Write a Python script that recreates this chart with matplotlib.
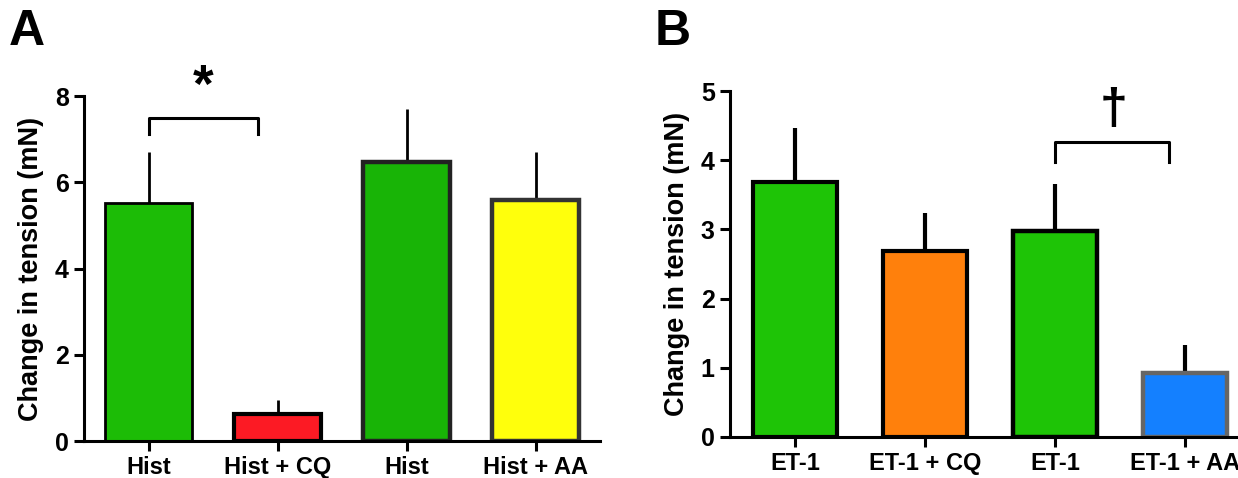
import matplotlib
matplotlib.use("Agg")
import matplotlib.pyplot as plt
import numpy as np

plt.rcParams['font.family'] = ['Liberation Sans', 'DejaVu Sans']
plt.rcParams['font.weight'] = 'bold'

# panel A data
labels_a = ["Hist", "Hist + CQ", "Hist", "Hist + AA"]
means_a = [5.52, 0.63, 6.48, 5.58]
upper_a = [6.70, 0.94, 7.69, 6.70]
colors_a = ["#1cbc06", "#fc1a24", "#18b406", "#ffff0c"]
edges_a = ["#000000", "#000000", "#222222", "#333333"]

# panel B data
labels_b = ["ET-1", "ET-1 + CQ", "ET-1", "ET-1 + AA"]
means_b = [3.68, 2.69, 2.98, 0.92]
upper_b = [4.47, 3.24, 3.66, 1.33]
colors_b = ["#1ec406", "#ff800c", "#1ec406", "#1480ff"]
edges_b = ["#000000", "#000000", "#000000", "#666666"]

fig = plt.figure(figsize=(12.38, 4.78), dpi=100)
ax_a = fig.add_axes([0.0679, 0.0774, 0.4168, 0.7216])
ax_b = fig.add_axes([0.5897, 0.0858, 0.4200, 0.7238])


def draw_panel(ax, labels, means, upper, colors, edges, ymax, width, edge_lw, err_lw):
    x = np.arange(len(labels))
    ax.bar(x, means, width=width, color=colors, edgecolor=edges,
           linewidth=edge_lw, zorder=2)
    err = np.array(upper) - np.array(means)
    ax.errorbar(x, means, yerr=[np.zeros(len(x)), err], fmt='none',
                ecolor='black', elinewidth=err_lw, capsize=0, zorder=1)
    ax.set_xlim(-0.5, 3.5)
    ax.set_ylim(0, ymax)
    ax.set_xticks(x)
    ax.set_xticklabels(labels, fontsize=17, fontweight='bold')
    ax.set_yticks(np.arange(0, ymax + 0.1, 2 if ymax == 8 else 1))
    for t in ax.get_yticklabels():
        t.set_fontsize(18)
        t.set_fontweight('bold')
    for s in ['top', 'right']:
        ax.spines[s].set_visible(False)
    for s in ['left', 'bottom']:
        ax.spines[s].set_linewidth(2.2)
    ax.tick_params(axis='both', width=2.2, length=7, pad=4)
    ax.set_ylabel("Change in tension (mN)", fontsize=19.5, fontweight='bold', labelpad=8)


draw_panel(ax_a, labels_a, means_a, upper_a, colors_a, edges_a, 8, 0.67,
           [2.0, 3.0, 3.2, 3.2], 2.0)
draw_panel(ax_b, labels_b, means_b, upper_b, colors_b, edges_b, 5, 0.65,
           [3.0, 3.0, 3.2, 3.2], 3.0)

# significance brackets
ax_a.plot([0, 0, 0.85, 0.85], [7.13, 7.48, 7.48, 7.13], color='black', lw=2.2,
          clip_on=False)
ax_a.text(0.42, 8.2, "*", fontsize=38, fontweight='bold', ha='center', va='center',
          clip_on=False)
ax_b.plot([2, 2, 2.88, 2.88], [3.98, 4.27, 4.27, 3.98], color='black', lw=2.2,
          clip_on=False)
ax_b.text(2.45, 4.72, "\u2020", fontsize=36, fontweight='bold', ha='center',
          va='center', clip_on=False)

fig.text(0.007, 0.885, "A", fontsize=36, fontweight='bold', va='bottom')
fig.text(0.529, 0.885, "B", fontsize=36, fontweight='bold', va='bottom')

fig.savefig("out.png", dpi=100)
